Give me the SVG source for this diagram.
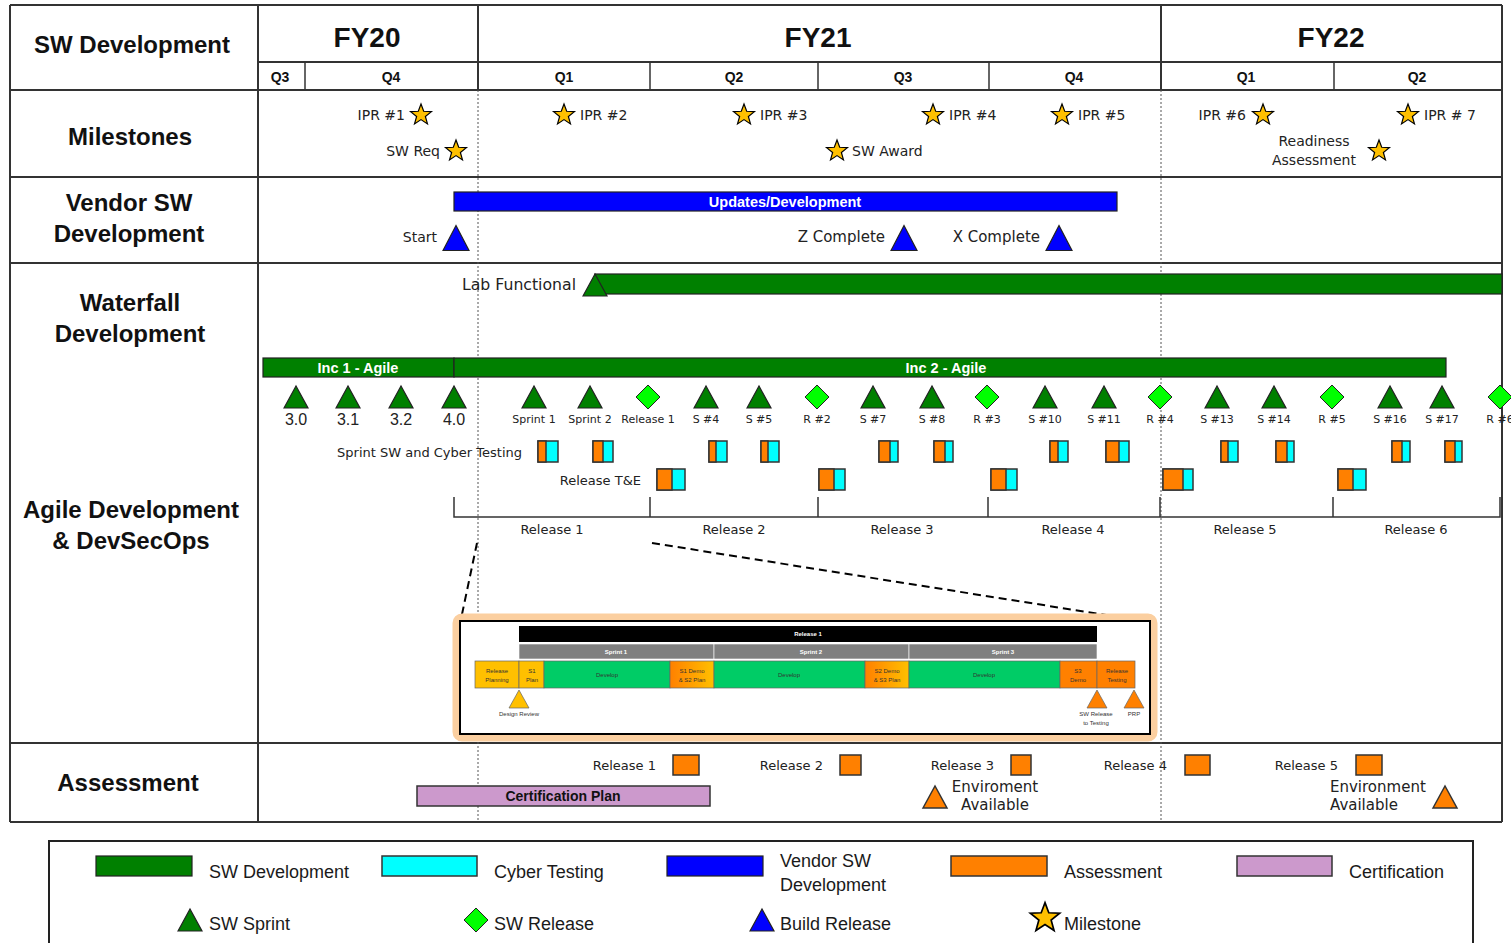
<svg xmlns="http://www.w3.org/2000/svg" xmlns:xlink="http://www.w3.org/1999/xlink" width="1511" height="943" viewBox="0 0 1511 943">
<style>
.ln{stroke:#333;stroke-width:2;fill:none}
.qn{stroke:#333;stroke-width:1.5;fill:none}
.dot{stroke:#555;stroke-width:1;stroke-dasharray:2 2;fill:none}
.hdr{font-family:"Liberation Sans",Arial,sans-serif;font-weight:bold;fill:#111;text-anchor:middle}
.fy{font-size:28px}
.q{font-size:14px}
.row{font-size:24px}
.lbl{font-family:"DejaVu Sans",Verdana,sans-serif;font-size:14px;fill:#222}
.lbl15{font-family:"DejaVu Sans",Verdana,sans-serif;font-size:15px;fill:#222}
.sm{font-family:"DejaVu Sans",Verdana,sans-serif;font-size:11px;fill:#222;text-anchor:middle}
.md{font-family:"DejaVu Sans",Verdana,sans-serif;font-size:13px;fill:#222}
.num{font-family:"Liberation Sans",Arial,sans-serif;font-size:16px;fill:#222;text-anchor:middle}
.bar{font-family:"Liberation Sans",Arial,sans-serif;font-weight:bold;font-size:14.5px;fill:#fff;text-anchor:middle}
.gr{fill:#008000;stroke:#222;stroke-width:1.2}
.bl{fill:#0000FF;stroke:#222;stroke-width:1.2}
.cy{fill:#00FFFF;stroke:#333;stroke-width:1.5}
.or{fill:#FF8000;stroke:#333;stroke-width:1.5}
.pu{fill:#CC99CC;stroke:#333;stroke-width:1.5}
.dm{fill:#00FF00;stroke:#222;stroke-width:1}
.tiny{font-family:"Liberation Sans",Arial,sans-serif;font-size:6px;fill:#333;text-anchor:middle}
.tinyw{font-family:"Liberation Sans",Arial,sans-serif;font-size:6px;font-weight:bold;fill:#fff;text-anchor:middle}
.leg{font-family:"Liberation Sans",Arial,sans-serif;font-size:18px;fill:#1a1a1a}
.dash{stroke:#000;stroke-width:2;stroke-dasharray:8 5;fill:none}
</style>
<defs>
<path id="star" d="M0,-11 L2.7,-3.72 L10.46,-3.4 L4.37,1.42 L6.47,8.9 L0,4.6 L-6.47,8.9 L-4.37,1.42 L-10.46,-3.4 L-2.7,-3.72Z" fill="#FFC000" stroke="#000" stroke-width="1.2"/>
<path id="tri" d="M-12,11 L0,-11 L12,11Z"/>
<path id="btri" d="M-13,12.5 L0,-12.5 L13,12.5Z"/>
<path id="stri" d="M-10,9 L0,-9 L10,9Z"/>
<path id="dia" d="M0,-12 L12,0 L0,12 L-12,0Z"/>
<linearGradient id="demo" x1="0" y1="0" x2="1" y2="0">
<stop offset="0" stop-color="#FF8000"/><stop offset="1" stop-color="#FFC000"/>
</linearGradient>
</defs>
<rect width="1511" height="943" fill="#fff"/>

<g id="grid">
<line class="ln" x1="10" y1="5" x2="1502" y2="5"/>
<line class="ln" x1="258" y1="62" x2="1502" y2="62"/>
<line class="ln" x1="10" y1="90" x2="1502" y2="90"/>
<line class="ln" x1="10" y1="177" x2="1502" y2="177"/>
<line class="ln" x1="10" y1="263" x2="1502" y2="263"/>
<line class="ln" x1="10" y1="743" x2="1502" y2="743"/>
<line class="ln" x1="10" y1="822" x2="1502" y2="822"/>
<line class="ln" x1="10" y1="5" x2="10" y2="822"/>
<line class="ln" x1="258" y1="5" x2="258" y2="822"/>
<line class="ln" x1="478" y1="5" x2="478" y2="90"/>
<line class="ln" x1="1161" y1="5" x2="1161" y2="90"/>
<line class="ln" x1="1502" y1="5" x2="1502" y2="822"/>
<line class="qn" x1="305" y1="62" x2="305" y2="90"/>
<line class="qn" x1="650" y1="62" x2="650" y2="90"/>
<line class="qn" x1="818" y1="62" x2="818" y2="90"/>
<line class="qn" x1="989" y1="62" x2="989" y2="90"/>
<line class="qn" x1="1334" y1="62" x2="1334" y2="90"/>
<line class="dot" x1="478" y1="90" x2="478" y2="822"/>
<line class="dot" x1="1161" y1="90" x2="1161" y2="822"/>
</g>

<g id="headers">
<text class="hdr row" x="132" y="53">SW Development</text>
<text class="hdr fy" x="367" y="47">FY20</text>
<text class="hdr fy" x="818" y="47">FY21</text>
<text class="hdr fy" x="1331" y="47">FY22</text>
<text class="hdr q" x="280" y="82">Q3</text>
<text class="hdr q" x="391" y="82">Q4</text>
<text class="hdr q" x="564" y="82">Q1</text>
<text class="hdr q" x="734" y="82">Q2</text>
<text class="hdr q" x="903" y="82">Q3</text>
<text class="hdr q" x="1074" y="82">Q4</text>
<text class="hdr q" x="1246" y="82">Q1</text>
<text class="hdr q" x="1417" y="82">Q2</text>
<text class="hdr row" x="130" y="145">Milestones</text>
<text class="hdr row" x="129" y="211">Vendor SW</text>
<text class="hdr row" x="129" y="242">Development</text>
<text class="hdr row" x="130" y="311">Waterfall</text>
<text class="hdr row" x="130" y="342">Development</text>
<text class="hdr row" x="131" y="518">Agile Development</text>
<text class="hdr row" x="131" y="549">&amp; DevSecOps</text>
<text class="hdr row" x="128" y="791">Assessment</text>
</g>

<g id="milestones">
<g id="ipr1"><text class="lbl" x="405" y="120" text-anchor="end">IPR #1</text><use href="#star" x="421" y="115"/></g>
<g id="swreq"><text class="lbl" x="440" y="156" text-anchor="end">SW Req</text><use href="#star" x="456" y="151"/></g>
<g id="ipr2"><use href="#star" x="564" y="115"/><text class="lbl" x="580" y="120">IPR #2</text></g>
<g id="ipr3"><use href="#star" x="744" y="115"/><text class="lbl" x="760" y="120">IPR #3</text></g>
<g id="ipr4"><use href="#star" x="933" y="115"/><text class="lbl" x="949" y="120">IPR #4</text></g>
<g id="ipr5"><use href="#star" x="1062" y="115"/><text class="lbl" x="1078" y="120">IPR #5</text></g>
<g id="ipr6"><text class="lbl" x="1246" y="120" text-anchor="end">IPR #6</text><use href="#star" x="1263" y="115"/></g>
<g id="ipr7"><use href="#star" x="1408" y="115"/><text class="lbl" x="1424" y="120">IPR # 7</text></g>
<g id="swaward"><use href="#star" x="837" y="151"/><text class="lbl" x="852" y="156">SW Award</text></g>
<g id="readiness"><text class="lbl" x="1314" y="146" text-anchor="middle">Readiness</text><text class="lbl" x="1314" y="165" text-anchor="middle">Assessment</text><use href="#star" x="1379" y="151"/></g>
</g>

<g id="vendor">
<g id="updates"><rect class="bl" x="454" y="192" width="663" height="19"/><text class="bar" x="785" y="207">Updates/Development</text></g>
<g id="start"><text class="lbl" x="437" y="242" text-anchor="end">Start</text><use href="#btri" x="456" y="238" class="bl"/></g>
<g id="zcomplete"><text class="lbl15" x="885" y="242" text-anchor="end">Z Complete</text><use href="#btri" x="904" y="238" class="bl"/></g>
<g id="xcomplete"><text class="lbl15" x="1040" y="242" text-anchor="end">X Complete</text><use href="#btri" x="1059" y="238" class="bl"/></g>
</g>

<g id="waterfall">
<text class="lbl" x="462" y="290" style="font-size:15.7px">Lab Functional</text>
<rect class="gr" x="595" y="274" width="907" height="20"/>
<use href="#tri" x="595" y="285" class="gr"/>
</g>

<g id="agile-bars">
<g id="inc1"><rect class="gr" x="263" y="358" width="191" height="19"/><text class="bar" x="358" y="373">Inc 1 - Agile</text></g>
<g id="inc2"><rect class="gr" x="454" y="358" width="992" height="19"/><text class="bar" x="946" y="373">Inc 2 - Agile</text></g>
</g>

<g id="sprints">
<g><use href="#tri" x="296" y="397" class="gr"/><text class="num" x="296" y="425">3.0</text></g>
<g><use href="#tri" x="348" y="397" class="gr"/><text class="num" x="348" y="425">3.1</text></g>
<g><use href="#tri" x="401" y="397" class="gr"/><text class="num" x="401" y="425">3.2</text></g>
<g><use href="#tri" x="454" y="397" class="gr"/><text class="num" x="454" y="425">4.0</text></g>
<g><use href="#tri" x="534" y="397" class="gr"/><text class="sm" x="534" y="423">Sprint 1</text></g>
<g><use href="#tri" x="590" y="397" class="gr"/><text class="sm" x="590" y="423">Sprint 2</text></g>
<g><use href="#dia" x="648" y="397" class="dm"/><text class="sm" x="648" y="423">Release 1</text></g>
<g><use href="#tri" x="706" y="397" class="gr"/><text class="sm" x="706" y="423">S #4</text></g>
<g><use href="#tri" x="759" y="397" class="gr"/><text class="sm" x="759" y="423">S #5</text></g>
<g><use href="#dia" x="817" y="397" class="dm"/><text class="sm" x="817" y="423">R #2</text></g>
<g><use href="#tri" x="873" y="397" class="gr"/><text class="sm" x="873" y="423">S #7</text></g>
<g><use href="#tri" x="932" y="397" class="gr"/><text class="sm" x="932" y="423">S #8</text></g>
<g><use href="#dia" x="987" y="397" class="dm"/><text class="sm" x="987" y="423">R #3</text></g>
<g><use href="#tri" x="1045" y="397" class="gr"/><text class="sm" x="1045" y="423">S #10</text></g>
<g><use href="#tri" x="1104" y="397" class="gr"/><text class="sm" x="1104" y="423">S #11</text></g>
<g><use href="#dia" x="1160" y="397" class="dm"/><text class="sm" x="1160" y="423">R #4</text></g>
<g><use href="#tri" x="1217" y="397" class="gr"/><text class="sm" x="1217" y="423">S #13</text></g>
<g><use href="#tri" x="1274" y="397" class="gr"/><text class="sm" x="1274" y="423">S #14</text></g>
<g><use href="#dia" x="1332" y="397" class="dm"/><text class="sm" x="1332" y="423">R #5</text></g>
<g><use href="#tri" x="1390" y="397" class="gr"/><text class="sm" x="1390" y="423">S #16</text></g>
<g><use href="#tri" x="1442" y="397" class="gr"/><text class="sm" x="1442" y="423">S #17</text></g>
<g><use href="#dia" x="1500" y="397" class="dm"/><text class="sm" x="1500" y="423">R #6</text></g>
</g>

<g id="sprint-testing">
<text class="md" x="522" y="457" text-anchor="end">Sprint SW and Cyber Testing</text>
<rect class="cy" x="538" y="441" width="20" height="21"/><rect class="or" x="538" y="441" width="8" height="21"/>
<rect class="cy" x="593" y="441" width="20" height="21"/><rect class="or" x="593" y="441" width="10" height="21"/>
<rect class="cy" x="709" y="441" width="18" height="21"/><rect class="or" x="709" y="441" width="7" height="21"/>
<rect class="cy" x="761" y="441" width="18" height="21"/><rect class="or" x="761" y="441" width="7" height="21"/>
<rect class="cy" x="879" y="441" width="19" height="21"/><rect class="or" x="879" y="441" width="11" height="21"/>
<rect class="cy" x="934" y="441" width="19" height="21"/><rect class="or" x="934" y="441" width="11" height="21"/>
<rect class="cy" x="1050" y="441" width="18" height="21"/><rect class="or" x="1050" y="441" width="8" height="21"/>
<rect class="cy" x="1106" y="441" width="23" height="21"/><rect class="or" x="1106" y="441" width="13" height="21"/>
<rect class="cy" x="1221" y="441" width="17" height="21"/><rect class="or" x="1221" y="441" width="7" height="21"/>
<rect class="cy" x="1276" y="441" width="18" height="21"/><rect class="or" x="1276" y="441" width="11" height="21"/>
<rect class="cy" x="1392" y="441" width="18" height="21"/><rect class="or" x="1392" y="441" width="10" height="21"/>
<rect class="cy" x="1445" y="441" width="17" height="21"/><rect class="or" x="1445" y="441" width="10" height="21"/>
</g>

<g id="release-te">
<text class="md" x="641" y="485" text-anchor="end">Release T&amp;E</text>
<rect class="cy" x="657" y="469" width="28" height="21"/><rect class="or" x="657" y="469" width="15" height="21"/>
<rect class="cy" x="819" y="469" width="26" height="21"/><rect class="or" x="819" y="469" width="15" height="21"/>
<rect class="cy" x="991" y="469" width="26" height="21"/><rect class="or" x="991" y="469" width="15" height="21"/>
<rect class="cy" x="1163" y="469" width="30" height="21"/><rect class="or" x="1163" y="469" width="20" height="21"/>
<rect class="cy" x="1338" y="469" width="28" height="21"/><rect class="or" x="1338" y="469" width="15" height="21"/>
</g>

<g id="release-bracket">
<path class="qn" d="M454,497 V517 H1500 V497 M650,497 V517 M818,497 V517 M988,497 V517 M1160,497 V517 M1333,497 V517" stroke="#111"/>
<text class="md" x="552" y="534" text-anchor="middle">Release 1</text>
<text class="md" x="734" y="534" text-anchor="middle">Release 2</text>
<text class="md" x="902" y="534" text-anchor="middle">Release 3</text>
<text class="md" x="1073" y="534" text-anchor="middle">Release 4</text>
<text class="md" x="1245" y="534" text-anchor="middle">Release 5</text>
<text class="md" x="1416" y="534" text-anchor="middle">Release 6</text>
</g>

<g id="connectors">
<line class="dash" x1="477" y1="543" x2="461" y2="619"/>
<line class="dash" x1="652" y1="543" x2="1150" y2="622"/>
</g>

<g id="inset">
<rect x="456" y="617" width="698" height="121" rx="6" fill="none" stroke="#FBCFA0" stroke-width="7"/>
<rect x="460" y="621" width="690" height="113" fill="#fff" stroke="#000" stroke-width="2"/>
<rect x="519" y="626" width="578" height="16" fill="#000"/>
<text class="tinyw" x="808" y="636">Release 1</text>
<rect x="519" y="644" width="195" height="15" fill="#808080" stroke="#fff" stroke-width="0.6"/>
<rect x="714" y="644" width="195" height="15" fill="#808080" stroke="#fff" stroke-width="0.6"/>
<rect x="909" y="644" width="188" height="15" fill="#808080" stroke="#fff" stroke-width="0.6"/>
<text class="tinyw" x="616" y="654">Sprint 1</text>
<text class="tinyw" x="811" y="654">Sprint 2</text>
<text class="tinyw" x="1003" y="654">Sprint 3</text>
<g stroke="#666" stroke-width="0.7">
<rect x="475" y="661" width="44" height="27" fill="#FFC000"/>
<rect x="519" y="661" width="25" height="27" fill="#FFC000"/>
<rect x="544" y="661" width="126" height="27" fill="#00CC66"/>
<rect x="670" y="661" width="44" height="27" fill="url(#demo)"/>
<rect x="714" y="661" width="151" height="27" fill="#00CC66"/>
<rect x="865" y="661" width="44" height="27" fill="url(#demo)"/>
<rect x="909" y="661" width="151" height="27" fill="#00CC66"/>
<rect x="1060" y="661" width="37" height="27" fill="#FF8000"/>
<rect x="1097" y="661" width="38" height="27" fill="#FF8000"/>
</g>
<text class="tiny" x="497" y="673">Release</text><text class="tiny" x="497" y="682">Planning</text>
<text class="tiny" x="532" y="673">S1</text><text class="tiny" x="532" y="682">Plan</text>
<text class="tiny" x="607" y="677">Develop</text>
<text class="tiny" x="692" y="673">S1 Demo</text><text class="tiny" x="692" y="682">&amp; S2 Plan</text>
<text class="tiny" x="789" y="677">Develop</text>
<text class="tiny" x="887" y="673">S2 Demo</text><text class="tiny" x="887" y="682">&amp; S3 Plan</text>
<text class="tiny" x="984" y="677">Develop</text>
<text class="tiny" x="1078" y="673">S3</text><text class="tiny" x="1078" y="682">Demo</text>
<text class="tiny" x="1117" y="673">Release</text><text class="tiny" x="1117" y="682">Testing</text>
<use href="#stri" x="519" y="699" fill="#FFC000" stroke="#666" stroke-width="0.7"/>
<use href="#stri" x="1097" y="699" fill="#FF8000" stroke="#666" stroke-width="0.7"/>
<use href="#stri" x="1134" y="699" fill="#FF8000" stroke="#666" stroke-width="0.7"/>
<text class="tiny" x="519" y="716">Design Review</text>
<text class="tiny" x="1096" y="716">SW Release</text><text class="tiny" x="1096" y="725">to Testing</text>
<text class="tiny" x="1134" y="716">PRP</text>
</g>

<g id="assessment">
<g><text class="md" x="656" y="770" text-anchor="end">Release 1</text><rect class="or" x="673" y="755" width="26" height="20"/></g>
<g><text class="md" x="823" y="770" text-anchor="end">Release 2</text><rect class="or" x="840" y="755" width="21" height="20"/></g>
<g><text class="md" x="994" y="770" text-anchor="end">Release 3</text><rect class="or" x="1011" y="755" width="20" height="20"/></g>
<g><text class="md" x="1167" y="770" text-anchor="end">Release 4</text><rect class="or" x="1185" y="755" width="25" height="20"/></g>
<g><text class="md" x="1338" y="770" text-anchor="end">Release 5</text><rect class="or" x="1356" y="755" width="26" height="20"/></g>
<g id="certplan"><rect class="pu" x="417" y="786" width="293" height="20"/><text class="hdr" x="563" y="801" font-size="14">Certification Plan</text></g>
<g id="env1"><use href="#tri" x="935" y="797" class="or"/><text class="lbl15" x="995" y="792" text-anchor="middle">Enviroment</text><text class="lbl15" x="995" y="810" text-anchor="middle">Available</text></g>
<g id="env2"><text class="lbl15" x="1330" y="792">Environment</text><text class="lbl15" x="1330" y="810">Available</text><use href="#tri" x="1445" y="797" class="or"/></g>
</g>

<g id="legend">
<rect x="49" y="841" width="1424" height="115" fill="#fff" stroke="#222" stroke-width="2"/>
<rect class="gr" x="96" y="856" width="96" height="20"/><text class="leg" x="209" y="878">SW Development</text>
<rect class="cy" x="382" y="856" width="95" height="20"/><text class="leg" x="494" y="878">Cyber Testing</text>
<rect class="bl" x="667" y="856" width="96" height="20"/><text class="leg" x="780" y="867">Vendor SW</text><text class="leg" x="780" y="891">Development</text>
<rect class="or" x="951" y="856" width="96" height="20"/><text class="leg" x="1064" y="878">Assessment</text>
<rect class="pu" x="1237" y="856" width="95" height="20"/><text class="leg" x="1349" y="878">Certification</text>
<use href="#tri" x="190" y="920" class="gr"/><text class="leg" x="209" y="930">SW Sprint</text>
<use href="#dia" x="476" y="920" class="dm"/><text class="leg" x="494" y="930">SW Release</text>
<use href="#tri" x="762" y="920" class="bl"/><text class="leg" x="780" y="930">Build Release</text>
<use href="#star" transform="translate(1045,918) scale(1.4)"/><text class="leg" x="1064" y="930">Milestone</text>
</g>
</svg>
